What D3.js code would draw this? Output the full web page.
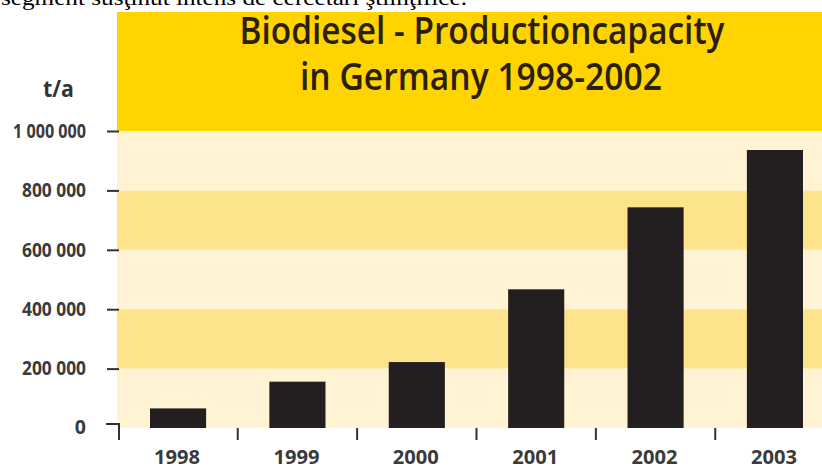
<!DOCTYPE html>
<html>
<head>
<meta charset="utf-8">
<script src="https://cdn.jsdelivr.net/npm/d3@7"></script>
<style>
  html, body { margin: 0; padding: 0; background: #fff; overflow: hidden; }
  svg { display: block; }
</style>
</head>
<body>
<svg id="chart" width="822" height="469"></svg>
<script>
// ---- data ----
const years = ["1998", "1999", "2000", "2001", "2002", "2003"];
const capacity = [66000, 156000, 222000, 467000, 743000, 936000];
const yTickValues = [0, 200000, 400000, 600000, 800000, 1000000];
const yTickLabels = ["0", "200 000", "400 000", "600 000", "800 000", "1 000 000"];
const titleLines = ["Biodiesel - Productioncapacity", "in Germany 1998-2002"];
const unitLabel = "t/a";
const topCaption = "segment susţinut intens de cercetări ştiinţifice.";

// ---- setup ----
const svg = d3.select("#chart");
const plotLeft = 117, plotRight = 822;
const y = d3.scaleLinear().domain([0, 1000000]).range([428, 131]);
const x = d3.scaleBand().domain(years).range([150, 803]).paddingInner(0.53).paddingOuter(0);

const FONT = "'Open Sans', 'DejaVu Sans', sans-serif";

// top caption (continuing from the page above, partly cut off)
svg.append("text")
  .attr("x", 1).attr("y", 5)
  .attr("font-family", "'Liberation Serif', 'Times New Roman', serif")
  .attr("font-size", 22)
  .attr("fill", "#000")
  .attr("textLength", 466).attr("lengthAdjust", "spacingAndGlyphs")
  .text(topCaption);

// header block
svg.append("rect")
  .attr("x", plotLeft).attr("y", 12)
  .attr("width", plotRight - plotLeft).attr("height", y(1000000) - 12)
  .attr("fill", "#FFD400");

// background bands
const bandColors = ["#FFF3D3", "#FDE38B", "#FFF3D3", "#FDE38B", "#FFF3D3"];
const bandPairs = d3.pairs(yTickValues);
svg.append("g").selectAll("rect")
  .data(bandPairs)
  .join("rect")
  .attr("x", plotLeft)
  .attr("y", d => y(d[1]))
  .attr("width", plotRight - plotLeft)
  .attr("height", d => y(d[0]) - y(d[1]))
  .attr("fill", (d, i) => bandColors[i]);

// title
const titleG = svg.append("g")
  .attr("font-family", FONT)
  .attr("font-weight", 600)
  .attr("font-size", 37)
  .attr("fill", "#2B1F10")
  .attr("text-anchor", "middle");
titleG.append("text").attr("x", 482).attr("y", 44)
  .attr("textLength", 485).attr("lengthAdjust", "spacingAndGlyphs")
  .text(titleLines[0]);
titleG.append("text").attr("x", 481).attr("y", 90)
  .attr("textLength", 362).attr("lengthAdjust", "spacingAndGlyphs")
  .text(titleLines[1]);

// unit label
svg.append("text")
  .attr("x", 43).attr("y", 97)
  .attr("font-family", FONT).attr("font-weight", 700).attr("font-size", 23)
  .attr("fill", "#333")
  .attr("textLength", 31).attr("lengthAdjust", "spacingAndGlyphs")
  .text(unitLabel);

// bars
svg.append("g").selectAll("rect")
  .data(years.map((yr, i) => ({ yr, v: capacity[i] })))
  .join("rect")
  .attr("x", d => x(d.yr))
  .attr("y", d => y(d.v))
  .attr("width", x.bandwidth())
  .attr("height", d => y(0) - y(d.v))
  .attr("fill", "#231F20");

// y axis
const yAxis = d3.axisLeft(y)
  .tickValues(yTickValues.slice(1))
  .tickSize(12)
  .tickPadding(21)
  .tickFormat((d) => yTickLabels[yTickValues.indexOf(d)]);
const yG = svg.append("g").attr("transform", "translate(119,0)").call(yAxis);
yG.select(".domain").remove();
yG.selectAll(".tick line").attr("stroke", "#333").attr("stroke-width", 2);
yG.selectAll(".tick text")
  .attr("font-family", FONT).attr("font-weight", 700).attr("font-size", 19.5)
  .attr("fill", "#3a3a3a")
  .attr("textLength", d => d === 1000000 ? 73 : 64)
  .attr("lengthAdjust", "spacingAndGlyphs");

// zero tick (corner shape) and label
const zy = y(0) - 4;
svg.append("path")
  .attr("d", `M106,${zy}H119V${zy + 16}`)
  .attr("fill", "none").attr("stroke", "#333").attr("stroke-width", 2);
svg.append("text")
  .attr("x", 86).attr("y", zy + 3).attr("dy", "0.35em")
  .attr("text-anchor", "end")
  .attr("font-family", FONT).attr("font-weight", 700).attr("font-size", 19.5)
  .attr("fill", "#3a3a3a")
  .text(yTickLabels[0]);

// x separators between bars
const gap = x.step() - x.bandwidth();
svg.append("g").selectAll("line")
  .data(years.slice(1))
  .join("line")
  .attr("x1", d => x(d) - gap / 2).attr("x2", d => x(d) - gap / 2)
  .attr("y1", y(0)).attr("y2", y(0) + 12)
  .attr("stroke", "#333").attr("stroke-width", 2);

// x labels
svg.append("g").selectAll("text")
  .data(years)
  .join("text")
  .attr("x", d => x(d) + x.bandwidth() / 2 - 1)
  .attr("y", 464)
  .attr("text-anchor", "middle")
  .attr("font-family", FONT).attr("font-weight", 700).attr("font-size", 19)
  .attr("fill", "#3a3a3a")
  .attr("textLength", 46).attr("lengthAdjust", "spacingAndGlyphs")
  .text(d => d);
</script>
</body>
</html>
